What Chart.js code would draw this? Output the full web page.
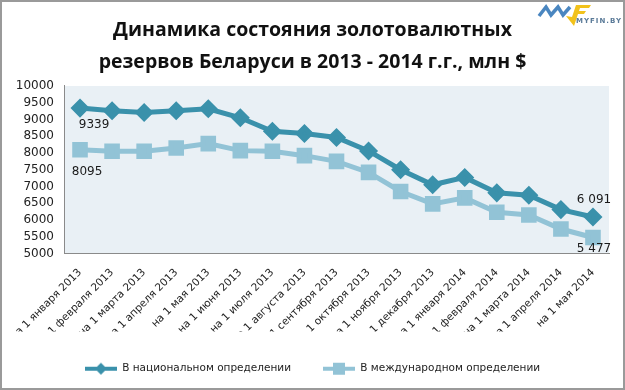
<!DOCTYPE html>
<html><head><meta charset="utf-8">
<script src="https://cdn.jsdelivr.net/npm/chart.js@4/dist/chart.umd.min.js"></script>
<style>html,body{margin:0;padding:0;background:#fff}#wrap{width:625px;height:390px;position:relative}</style>
</head><body><div id="wrap"><canvas id="c" width="625" height="390"></canvas></div>
<script>
const categories = ["на 1 января 2013","на 1 февраля 2013","на 1 марта 2013","на 1 апреля 2013","на 1 мая 2013","на 1 июня 2013","на 1 июля 2013","на 1 августа 2013","на 1 сентября 2013","на 1 октября 2013","на 1 ноября 2013","на 1 декабря 2013","на 1 января 2014","на 1 февраля 2014","на 1 марта 2014","на 1 апреля 2014","на 1 мая 2014"];
const nationalValues = [9339,9260,9210,9260,9320,9050,8650,8580,8460,8060,7500,7050,7270,6810,6740,6310,6091];
const internationalValues = [8095,8050,8050,8150,8280,8070,8050,7920,7750,7420,6850,6480,6660,6230,6150,5730,5477];
const seriesNames = ["В национальном определении","В международном определении"];
const titleLines = ["Динамика состояния золотовалютных","резервов Беларуси в 2013 - 2014 г.г., млн $"];
const pointLabels = [
  {ds:0, i:0, text:"9339", dx:14, dy:17},
  {ds:1, i:0, text:"8095", dx:7, dy:22},
  {ds:0, i:16, text:"6 091", dx:1, dy:-17},
  {ds:1, i:16, text:"5 477", dx:1, dy:11}
];
const COL_NAT = '#3a91ab', COL_INT = '#92c3d6';

function legendIcon(color, shape){
  const c = document.createElement('canvas'); c.width = 32; c.height = 14;
  const x = c.getContext('2d');
  x.strokeStyle = color; x.lineWidth = 4; x.beginPath(); x.moveTo(0,7); x.lineTo(32,7); x.stroke();
  x.fillStyle = color; x.beginPath();
  if (shape === 'diamond') { x.moveTo(16,1); x.lineTo(22,7); x.lineTo(16,13); x.lineTo(10,7); x.closePath(); }
  else { x.rect(10,1,12,12); }
  x.fill();
  return c;
}

const bgPlugin = {
  id:'bg',
  beforeDraw(chart){
    const {ctx, chartArea:a} = chart;
    ctx.save();
    ctx.fillStyle='#fff'; ctx.fillRect(0,0,chart.width,chart.height);
    ctx.fillStyle='#e9f0f5'; ctx.fillRect(a.left,a.top,a.right-a.left,a.bottom-a.top);
    ctx.restore();
  },
  afterDraw(chart){
    const {ctx} = chart;
    ctx.save();
    ctx.font='12px "DejaVu Sans"'; ctx.fillStyle='#1a1a1a'; ctx.textAlign='center'; ctx.textBaseline='middle';
    pointLabels.forEach(p=>{
      const el = chart.getDatasetMeta(p.ds).data[p.i];
      ctx.fillText(p.text, el.x+p.dx, el.y+p.dy);
    });
    // logo
    ctx.strokeStyle='#4a86c0'; ctx.lineWidth=3.5; ctx.lineJoin='miter';
    ctx.beginPath(); ctx.moveTo(539,16); ctx.lineTo(546,7); ctx.lineTo(551,15); ctx.lineTo(558,7); ctx.lineTo(563,15); ctx.lineTo(570,7); ctx.stroke();
    ctx.fillStyle='#f2c21b';
    ctx.beginPath(); ctx.moveTo(566,16); ctx.lineTo(574,26); ctx.lineTo(578,14); ctx.lineTo(584,14); ctx.lineTo(586,11); ctx.lineTo(579,11); ctx.lineTo(580,8); ctx.lineTo(589,8); ctx.lineTo(591,5); ctx.lineTo(576,5); ctx.lineTo(572,17); ctx.fill();
    ctx.font='bold 7px "DejaVu Sans"'; ctx.fillStyle='#5a7a98'; ctx.textAlign='left';
    ctx.letterSpacing='1px';
    ctx.fillText('MYFIN.BY', 576, 21);
    ctx.letterSpacing='0px';
    ctx.strokeStyle='#9a9a9a'; ctx.lineWidth=2; ctx.strokeRect(1,1,chart.width-2,chart.height-2);
    ctx.restore();
  }
};

new Chart(document.getElementById('c'), {
  type:'line',
  data:{
    labels:categories,
    datasets:[
      {label:seriesNames[0], data:nationalValues, borderColor:COL_NAT, backgroundColor:COL_NAT,
       borderWidth:5, pointStyle:'rectRot', pointRadius:6, pointHoverRadius:6, tension:0},
      {label:seriesNames[1], data:internationalValues, borderColor:COL_INT, backgroundColor:COL_INT,
       borderWidth:5, pointStyle:'rect', pointRadius:7.5, pointHoverRadius:7.5, tension:0}
    ]
  },
  options:{
    responsive:false, animation:false,
    layout:{padding:{left:16,right:16,top:0,bottom:6}},
    plugins:{
      title:{display:true, text:titleLines, color:'#111', font:{family:'"Open Sans"', size:19.5, weight:'bold', lineHeight:1.64},
        padding:{top:14,bottom:8}},
      legend:{position:'bottom', labels:{usePointStyle:true, pointStyleWidth:32, boxWidth:32, boxHeight:12, color:'#222',
        font:{family:'"DejaVu Sans"', size:10.5}, padding:32,
        generateLabels:(chart)=>chart.data.datasets.map((d,i)=>({text:d.label, datasetIndex:i, fontColor:'#222',
          pointStyle: legendIcon(d.borderColor, i===0?'diamond':'square'), fillStyle:d.borderColor, strokeStyle:d.borderColor, lineWidth:0, hidden:false}))}},
      tooltip:{enabled:false}
    },
    scales:{
      x:{offset:true, grid:{display:false, drawTicks:false}, border:{color:'#8a8a8a', width:1},
         ticks:{minRotation:45, maxRotation:45, autoSkip:false, color:'#222', font:{family:'"DejaVu Sans"', size:10.5}, padding:13},
         afterFit(s){s.height=78; s.paddingLeft=0; s.paddingRight=0;}},
      y:{min:5000, max:10000, grid:{display:false, drawTicks:false}, border:{color:'#8a8a8a', width:1},
         ticks:{stepSize:500, autoSkip:false, color:'#222', font:{family:'"DejaVu Sans"', size:12}, padding:10,
           callback:(v)=>String(v)},
         afterFit(s){s.width=48;}}
    }
  },
  plugins:[bgPlugin]
});
</script></body></html>
